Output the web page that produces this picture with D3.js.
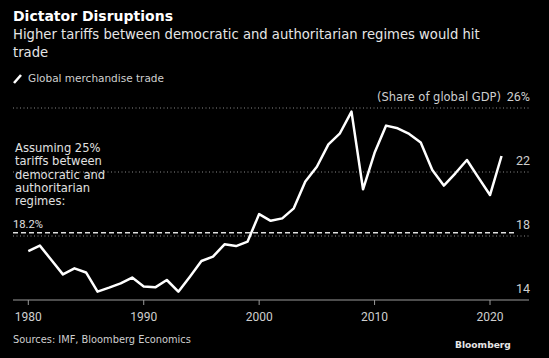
<!DOCTYPE html>
<html><head><meta charset="utf-8">
<script src="https://cdn.jsdelivr.net/npm/d3@7"></script>
<style>
html,body{margin:0;padding:0;background:#000;}
svg{display:block;}
text{font-family:"DejaVu Sans","Noto Sans",sans-serif;}
text.num{font-family:"Roboto","Noto Sans",sans-serif;}
</style></head>
<body>
<svg id="c" width="549" height="358"></svg>
<script>
const years = d3.range(1980, 2022);
const tradeShare = [17.05,17.4,16.5,15.6,15.98,15.72,14.52,14.77,15.04,15.4,14.85,14.79,15.25,14.52,15.46,16.44,16.71,17.48,17.37,17.65,19.37,18.95,19.1,19.73,21.4,22.33,23.73,24.42,25.77,20.92,23.2,24.9,24.73,24.38,23.85,22.12,21.15,21.92,22.75,21.65,20.56,23.0];
const scenarioValue = 18.2;
const yTicks = [14,18,22,26];
const xTicks = [1980,1990,2000,2010,2020];
const annotationLines = ["Assuming 25%","tariffs between","democratic and","authoritarian","regimes:"];

const svg = d3.select("#c");
const x = d3.scaleLinear().domain([1980,2020]).range([28.3,490]);
const y = d3.scaleLinear().domain([14,26]).range([300,108]);
const left = 13, right = 529;

function sizeFor(str, target, base, weight, cls){
  const t = svg.append("text").attr("class",cls||null).attr("font-size",base)
    .attr("font-weight",weight||"normal").text(str);
  const w = t.node().getComputedTextLength(); t.remove();
  return w > 0 ? +(base*target/w).toFixed(2) : base;
}
function fit(sel, target, base){
  sel.attr("font-size", sizeFor(sel.text(), target, base, sel.attr("font-weight"), sel.attr("class")));
  return sel;
}

// title
fit(svg.append("text").attr("x",13).attr("y",21).attr("fill","#fff")
  .attr("font-weight","bold").text("Dictator Disruptions"), 160, 15);
const sub1 = fit(svg.append("text").attr("x",13).attr("y",39).attr("fill","#e6e6e6")
  .text("Higher tariffs between democratic and authoritarian regimes would hit"), 467, 13);
svg.append("text").attr("x",13).attr("y",57).attr("fill","#e6e6e6")
  .attr("font-size",sub1.attr("font-size")).text("trade");

// legend
svg.append("line").attr("x1",14).attr("y1",83).attr("x2",21).attr("y2",75)
  .attr("stroke","#fff").attr("stroke-width",2.5);
fit(svg.append("text").attr("x",28).attr("y",82).attr("fill","#cfcfcf")
  .text("Global merchandise trade"), 136, 11);

// gridlines
svg.append("g").selectAll("line").data(yTicks.filter(d=>d!==14)).join("line")
  .attr("x1",left).attr("x2",right).attr("y1",d=>y(d)).attr("y2",d=>y(d))
  .attr("stroke","#8a8a8a").attr("stroke-width",1).attr("stroke-dasharray","1,2.5");

// right labels
svg.append("g").selectAll("text").data(yTicks).join("text")
  .attr("class","num")
  .attr("x",530).attr("y",d=>y(d)-7).attr("text-anchor","end")
  .attr("fill","#cfcfcf").attr("font-size",12.5)
  .text(d=>d===26 ? "26%" : d);
fit(svg.append("text").attr("x",501).attr("y",y(26)-7).attr("text-anchor","end")
  .attr("fill","#cfcfcf").text("(Share of global GDP)"), 124, 11);

// scenario line
svg.append("line").attr("x1",left).attr("x2",516)
  .attr("y1",y(scenarioValue)).attr("y2",y(scenarioValue))
  .attr("stroke","#e0e0e0").attr("stroke-width",1.5).attr("stroke-dasharray","5,3");
fit(svg.append("text").attr("class","num").attr("x",13).attr("y",y(scenarioValue)-5).attr("fill","#e0e0e0")
  .text(scenarioValue.toFixed(1)+"%"), 30, 12);
const annSize = sizeFor(annotationLines[1], 87, 11);
svg.append("g").selectAll("text").data(annotationLines).join("text")
  .attr("x",15).attr("y",(d,i)=>152+i*13.3).attr("fill","#e0e0e0")
  .attr("font-size",annSize).text(d=>d);

// x axis
svg.append("line").attr("x1",left).attr("x2",right).attr("y1",300).attr("y2",300)
  .attr("stroke","#9a9a9a").attr("stroke-width",1.2);
const xa = svg.append("g");
xa.selectAll("line").data(xTicks).join("line")
  .attr("x1",d=>x(d)).attr("x2",d=>x(d)).attr("y1",300).attr("y2",305)
  .attr("stroke","#9a9a9a").attr("stroke-width",1);
xa.selectAll("text").data(xTicks).join("text")
  .attr("class","num")
  .attr("x",d=>x(d)).attr("y",321).attr("text-anchor","middle")
  .attr("fill","#cfcfcf").attr("font-size",12).text(d=>d);

// line
const line = d3.line().x((d,i)=>x(years[i])).y(d=>y(d));
svg.append("path").datum(tradeShare).attr("d",line)
  .attr("fill","none").attr("stroke","#fff").attr("stroke-width",2.5)
  .attr("stroke-linejoin","round");

// footer
fit(svg.append("text").attr("x",13).attr("y",343).attr("fill","#cfcfcf")
  .text("Sources: IMF, Bloomberg Economics"), 178, 11);
fit(svg.append("text").attr("x",455).attr("y",348).attr("fill","#e6e6e6")
  .attr("font-weight","bold").text("Bloomberg"), 56, 10);
</script>
</body></html>
